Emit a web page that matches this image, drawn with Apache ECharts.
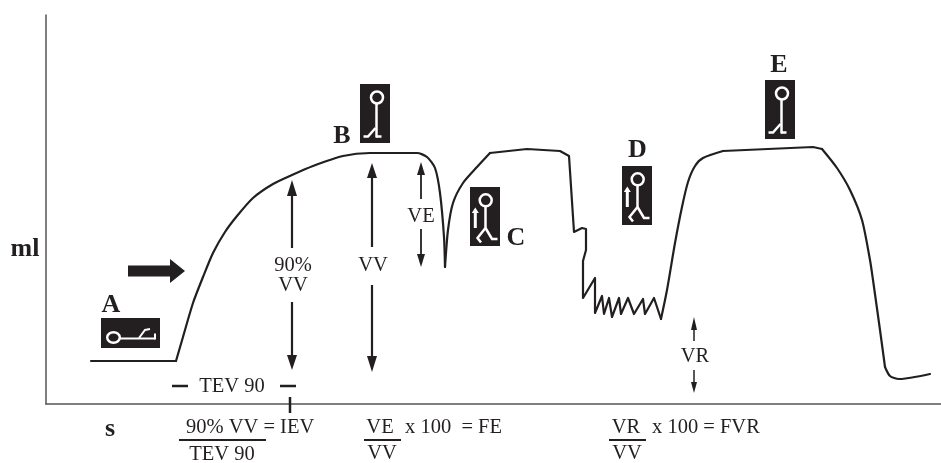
<!DOCTYPE html>
<html><head><meta charset="utf-8">
<style>html,body{margin:0;padding:0;background:#fff}#c{width:941px;height:463px}</style>
<script src="https://cdn.jsdelivr.net/npm/echarts@6/dist/echarts.min.js"></script>
</head><body><div id="c"></div>
<script>
// Volume trace (arbitrary units)
const timeValues = [45,130,137,147,157,167,179,191,207,227,246,267,297,324,354,371,381,389,394,398,399,402,407,417,431,444,481,514,523,528,536,540,540,537,537,549,549,556,558,563,566,573,575,582,588,597,599,608,615,621,629,636,642,649,657,677,767,776,791,804,816,824,827,834,839,844,853,884];
const mlValues   = [43,43,67,101,127,151,172,188,206,220,229,238,248,251,251,251,247,236,211,167,137,174,201,221,237,251,255,253,248,172,176,175,154,143,106,126,91,108,90,106,87,106,90,106,90,105,90,106,85,114,161,197,222,238,246,253,257,255,236,214,184,144,124,74,37,28,25,30];
// Index ranges of the trace and whether each run is a rounded curve
const traceRuns = [[0,1,false],[1,20,true],[20,25,true],[25,48,false],[48,55,true],[55,57,false],[57,64,true],[64,67,true]];

// Arrows: x0, y0 (tail), x1, y1 (tip), head length, head half width, shaft width
const arrows = [
  [246,156,246,224,16,5,2.2],[246,102,246,34,15,5,2.2],
  [326,157,326,241,15,5,2.2],[326,119,326,32,16,5,2.2],
  [375,205,375,242,13,4,1.8],[375,175,375,137,13,4,1.8],
  [648,63,648,87,13,3,1.5],[648,34,648,11,11,3,1.5],
  [82,133,139,133,15,12,11]
];
// Plain rules: x0, y0, x1, y1, width
const rules = [
  [126,18,142,18,2.5],[234,18,250,18,2.5],[244,7,244,-9,2.5],
  [133,-36,220,-36,2],[318,-36,355,-36,2],[563,-36,600,-36,2]
];
// Text: string, x, baseline y, align
const boldLabels = [
  ['ml',-21,147,'center'],['s',64,-33,'center'],['A',65,91,'center'],
  ['B',296,260,'center'],['C',470,158,'center'],['D',591.5,246,'center'],['E',733,331,'center']
];
const plainLabels = [
  ['90%',247,132,'center'],['VV',247,112,'center'],['VV',327,132,'center'],['VE',375,181,'center'],
  ['TEV 90',186,11,'center'],['VR',649,41,'center'],
  ['90% VV = IEV',140,-30,'left'],['TEV 90',176,-57,'center'],
  ['VE',334,-30,'center'],['x 100  = FE',359,-30,'left'],['VV',336,-56,'center'],
  ['VR',580,-30,'center'],['x 100 = FVR',606,-30,'left'],['VV',581,-56,'center']
];
// Posture icons: kind, x, top y
const icons = [['lying',55,86],['standing',314,320],['walking',424,217],['walking',576,238],['standing',719,324]];

const INK = '#231f20';
const chart = echarts.init(document.getElementById('c'), null, {renderer:'canvas'});

function seg(p, lw, col){
  return {type:'polyline', shape:{points:p}, style:{stroke:col||INK, fill:null, lineWidth:lw, lineCap:'butt', lineJoin:'miter'}};
}
function renderArrow(params, api){
  const a = arrows[params.dataIndex];
  const p0 = api.coord([a[0],a[1]]), p1 = api.coord([a[2],a[3]]);
  const dx=p1[0]-p0[0], dy=p1[1]-p0[1], L=Math.hypot(dx,dy), ux=dx/L, uy=dy/L;
  const bx=p1[0]-ux*a[4], by=p1[1]-uy*a[4];
  return {type:'group', children:[
    seg([p0,[bx,by]],a[6]),
    {type:'polygon', shape:{points:[p1,[bx-uy*a[5],by+ux*a[5]],[bx+uy*a[5],by-ux*a[5]]]}, style:{fill:INK}}
  ]};
}
function renderRule(params, api){
  const r = rules[params.dataIndex];
  return seg([api.coord([r[0],r[1]]),api.coord([r[2],r[3]])],r[4]);
}
function renderText(list,size,weight){
  return function(params, api){
    const t = list[params.dataIndex], p = api.coord([t[1],t[2]]);
    return {type:'text', x:p[0], y:p[1]-size*0.31, style:{text:t[0], x:0, y:0, fill:INK,
      font:weight+' '+size+'px "Liberation Serif", serif', textAlign:t[3], textVerticalAlign:'middle', align:t[3], verticalAlign:'middle'}};
  };
}
function renderIcon(params, api){
  const ic = icons[params.dataIndex], o = api.coord([ic[1],ic[2]]);
  const W='#fff', lw=2.5;
  const P = pts => pts.map(q=>[o[0]+q[0],o[1]+q[1]]);
  const ch=[];
  const circle=(x,y,r)=>({type:'circle',shape:{cx:o[0]+x,cy:o[1]+y,r:r},style:{stroke:W,fill:null,lineWidth:lw}});
  if(ic[0]==='lying'){
    ch.push({type:'rect',shape:{x:o[0],y:o[1],width:59,height:30},style:{fill:INK}});
    ch.push({type:'ellipse',shape:{cx:o[0]+12.5,cy:o[1]+19.5,rx:6.3,ry:5.2},style:{stroke:W,fill:null,lineWidth:lw}});
    ch.push(seg(P([[18.5,20.5],[54,20.5]]),2,W));
    ch.push(seg(P([[54,15.5],[54,21.5]]),2,W));
    ch.push(seg(P([[38,20],[44,12],[49,11]]),2,W));
  } else {
    ch.push({type:'rect',shape:{x:o[0],y:o[1],width:30,height:59},style:{fill:INK}});
    if(ic[0]==='standing'){
      ch.push(circle(17,13.5,6));
      ch.push(seg(P([[16.5,20],[16.5,53.5]]),lw,W));
      ch.push(seg(P([[15.5,44],[8,52.5],[3.5,52.5]]),lw,W));
      ch.push(seg(P([[16,52.5],[21.5,52.5]]),lw,W));
    } else {
      ch.push(circle(15.7,13.3,6));
      ch.push(seg(P([[15.5,19.5],[15.5,41]]),lw,W));
      ch.push(seg(P([[15.5,41],[7.5,51],[11,55.5]]),lw,W));
      ch.push(seg(P([[15.5,41],[22,52],[27.5,52]]),lw,W));
      ch.push(seg(P([[5.3,41],[5.3,25]]),3,W));
      ch.push({type:'polygon',shape:{points:P([[5.3,20.5],[1.8,26],[8.8,26]])},style:{fill:W}});
    }
  }
  return {type:'group',children:ch};
}
const xy = list => list.map(r=>[r[0],r[1]]);
const customSeries = (render,data,z) => ({type:'custom',renderItem:render,data:data,encode:{x:0,y:1},silent:true,clip:false,z:z,animation:false});
const traceSeries = traceRuns.map(run => {
  const data=[];
  for(let i=run[0];i<=run[1];i++) data.push([timeValues[i],mlValues[i]]);
  return {type:'line',name:'ml',data:data,showSymbol:false,symbol:'none',smooth:run[2]?0.25:false,
    lineStyle:{color:INK,width:2.2,join:'round',cap:'round'},silent:true,z:3};
});

chart.setOption({
  animation:false,
  tooltip:{show:false},
  legend:{show:false},
  grid:{left:46,top:15,width:895,height:389,containLabel:false},
  xAxis:{type:'value',min:0,max:895,splitLine:{show:false},axisTick:{show:false},axisLabel:{show:false},
    axisLine:{show:true,onZero:false,lineStyle:{color:'#555',width:1.5}}},
  yAxis:{type:'value',min:0,max:389,splitLine:{show:false},axisTick:{show:false},axisLabel:{show:false},
    axisLine:{show:true,onZero:false,lineStyle:{color:'#555',width:1.5}}},
  series:traceSeries.concat([
    customSeries(renderArrow,arrows.map(a=>[a[0],a[1]]),4),
    customSeries(renderRule,xy(rules),4),
    customSeries(renderText(boldLabels,26,'bold'),boldLabels.map(t=>[t[1],t[2]]),5),
    customSeries(renderText(plainLabels,20.5,'normal'),plainLabels.map(t=>[t[1],t[2]]),5),
    customSeries(renderIcon,icons.map(t=>[t[1],t[2]]),5)
  ])
});
</script></body></html>
